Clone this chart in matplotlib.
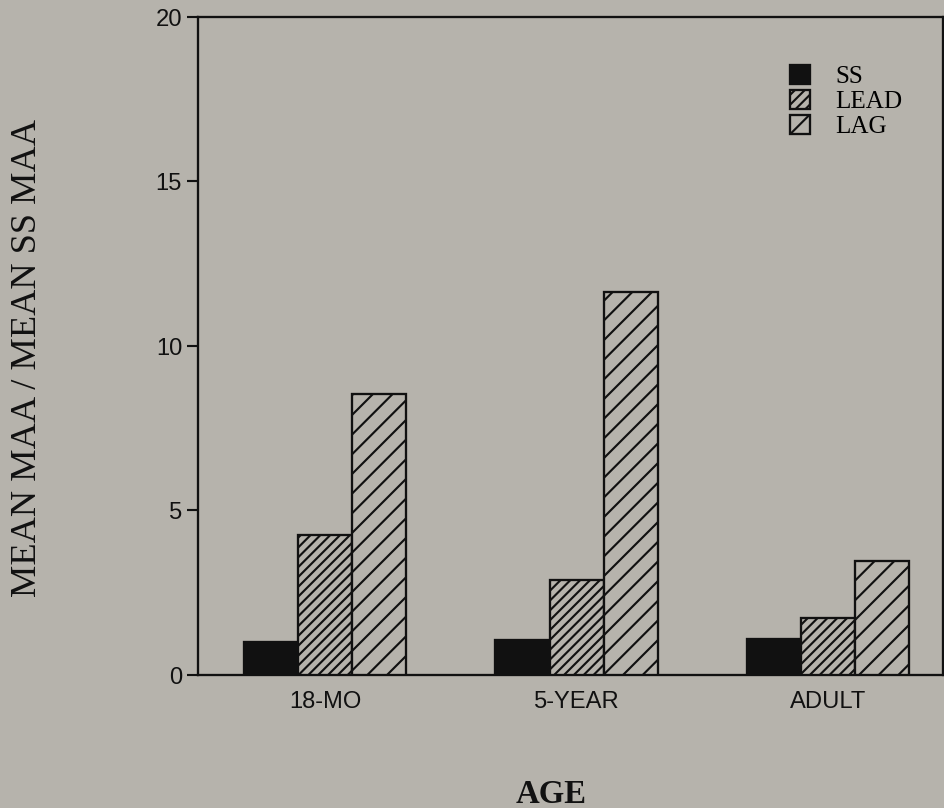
import matplotlib
matplotlib.use("Agg")
import matplotlib.pyplot as plt
import numpy as np

# ---- data ----
categories = ["18-MO", "5-YEAR", "ADULT"]
series_names = ["SS", "LEAD", "LAG"]
ss_values = [1.0, 1.05, 1.1]
lead_values = [4.25, 2.9, 1.73]
lag_values = [8.55, 11.65, 3.47]
yticks = [0, 5, 10, 15, 20]

DPI = 118
BG = "#b6b3ac"
INK = "#111111"

plt.rcParams["hatch.linewidth"] = 1.3
plt.rcParams["hatch.color"] = INK

fig = plt.figure(figsize=((944 + 0.01) / DPI, (808 + 0.01) / DPI), dpi=DPI, facecolor=BG)
ax = fig.add_axes([198 / 944, 1 - 675 / 808, (943 - 198) / 944, 658 / 808])
ax.set_facecolor(BG)

x = np.arange(len(categories))
w = 0.215
styles = [
    dict(color=INK, edgecolor=INK, hatch=None),
    dict(color=BG, edgecolor=INK, hatch="////"),
    dict(color=BG, edgecolor=INK, hatch="//"),
]
handles = []
for i, (vals, st) in enumerate(zip([ss_values, lead_values, lag_values], styles)):
    b = ax.bar(x + (i - 1) * w, vals, width=w, facecolor=st["color"],
               edgecolor=st["edgecolor"], hatch=st["hatch"], linewidth=1.4,
               label=series_names[i], zorder=3)
    handles.append(b)

ax.set_xlim(-0.506, 2.458)
ax.set_ylim(0, 20)
ax.set_yticks(yticks)
ax.set_yticklabels([str(t) for t in yticks], fontfamily="Liberation Sans", fontsize=14.5)
ax.set_xticks(x)
ax.set_xticklabels(categories, fontfamily="Liberation Sans", fontsize=14.5)
ax.tick_params(axis="x", length=0, pad=10, colors=INK)
ax.tick_params(axis="y", length=6.7, width=1.3, pad=3, direction="out", colors=INK)
for s in ax.spines.values():
    s.set_linewidth(1.4)
    s.set_color(INK)

leg = fig.legend(handles=handles, labels=series_names, loc="upper left",
                 bbox_to_anchor=(790 / 944, 1 - 65 / 808), frameon=False,
                 prop={"family": "Liberation Serif", "size": 15.3},
                 handlelength=0.8, handleheight=0.8, handletextpad=1.0,
                 labelspacing=0.06, borderpad=0, borderaxespad=0)

fig.text(27 / 944, 1 - 358 / 808, "MEAN MAA / MEAN SS MAA", rotation=90,
         ha="center", va="center", fontfamily="Liberation Serif", fontsize=22.2, color=INK)
fig.text(551 / 944, 1 - 794 / 808, "AGE", ha="center", va="center",
         fontfamily="Liberation Serif", fontsize=20, fontweight="bold", color=INK)

fig.savefig("out.png", dpi=DPI, facecolor=BG)
